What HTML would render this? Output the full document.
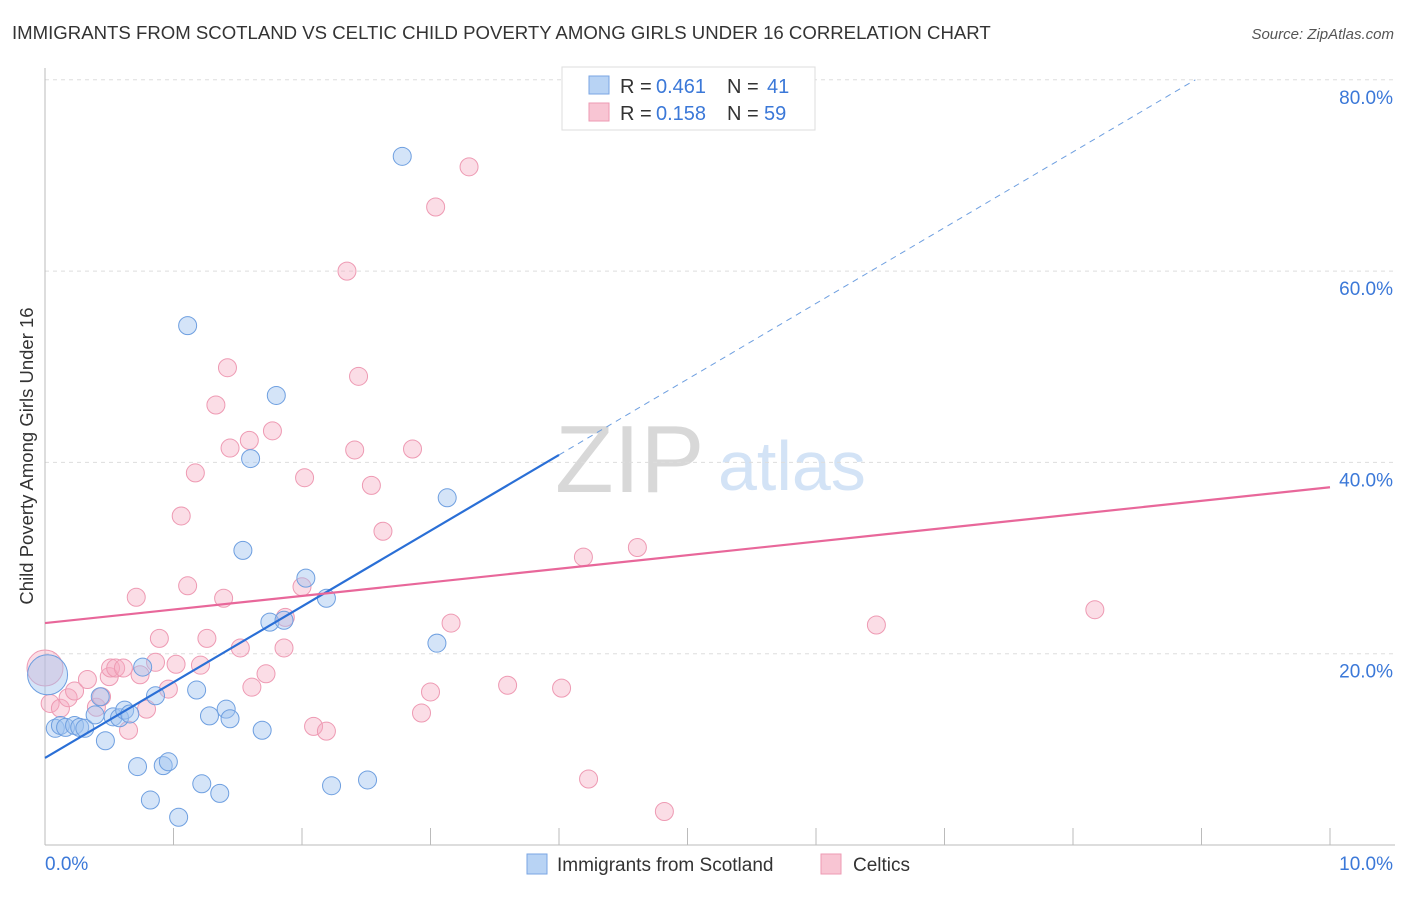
<!DOCTYPE html>
<html><head><meta charset="utf-8"><style>
body{margin:0;background:#fff;font-family:"Liberation Sans",sans-serif;}
svg text{font-family:"Liberation Sans",sans-serif;}
</style></head><body>
<svg id="chart" width="1406" height="892" xmlns="http://www.w3.org/2000/svg">
<text x="12" y="39" font-size="18.6" fill="#333">IMMIGRANTS FROM SCOTLAND VS CELTIC CHILD POVERTY AMONG GIRLS UNDER 16 CORRELATION CHART</text>
<text x="1394" y="39" font-size="15" fill="#555" text-anchor="end" font-style="italic">Source: ZipAtlas.com</text>
<text x="555" y="492" font-size="96" fill="#d8d8d8" font-family="Liberation Serif, serif">ZIP</text>
<text x="718" y="490" font-size="70" fill="#d3e3f6">atlas</text>
<text transform="translate(33,456) rotate(-90)" font-size="18.5" fill="#333" text-anchor="middle">Child Poverty Among Girls Under 16</text>
<g id="grid"></g><g id="marks"></g>
<g>
<rect x="562" y="67" width="253" height="63" fill="#fff" stroke="#ddd"/>
<rect x="589" y="76" width="20" height="18" fill="#b8d3f4" stroke="#7aa6e3"/>
<text x="620" y="93" font-size="20" fill="#333">R = </text><text x="656" y="93" font-size="20" fill="#3b78d8">0.461</text>
<text x="727" y="93" font-size="20" fill="#333">N = </text><text x="767" y="93" font-size="20" fill="#3b78d8">41</text>
<rect x="589" y="103" width="20" height="18" fill="#f8c5d3" stroke="#ee9ab3"/>
<text x="620" y="120" font-size="20" fill="#333">R = </text><text x="656" y="120" font-size="20" fill="#3b78d8">0.158</text>
<text x="727" y="120" font-size="20" fill="#333">N = </text><text x="764" y="120" font-size="20" fill="#3b78d8">59</text>
</g>
<g>
<rect x="527" y="854" width="20" height="20" fill="#b8d3f4" stroke="#7aa6e3"/>
<text x="557" y="871" font-size="19" fill="#333">Immigrants from Scotland</text>
<rect x="821" y="854" width="20" height="20" fill="#f8c5d3" stroke="#ee9ab3"/>
<text x="853" y="871" font-size="19" fill="#333">Celtics</text>
</g>
</svg>
<script>
const blueX=[0.02,0.08,0.12,0.16,0.23,0.27,0.31,0.39,0.43,0.47,0.53,0.58,0.62,0.66,0.72,0.76,0.82,0.86,0.92,0.96,1.04,1.11,1.18,1.22,1.28,1.36,1.41,1.44,1.54,1.60,1.69,1.75,1.80,1.86,2.03,2.19,2.23,2.51,2.78,3.05,3.13];
const blueY=[17.8,12.2,12.5,12.3,12.5,12.3,12.2,13.6,15.5,10.9,13.4,13.3,14.1,13.7,8.2,18.6,4.7,15.6,8.3,8.7,2.9,54.3,16.2,6.4,13.5,5.4,14.2,13.2,30.8,40.4,12.0,23.3,47.0,23.5,27.9,25.8,6.2,6.8,72.0,21.1,36.3];
const pinkX=[0.0,0.04,0.12,0.18,0.23,0.33,0.40,0.44,0.50,0.51,0.55,0.61,0.65,0.71,0.74,0.79,0.86,0.89,0.96,1.02,1.06,1.11,1.17,1.21,1.26,1.33,1.39,1.42,1.44,1.52,1.59,1.61,1.72,1.77,1.86,1.87,2.00,2.02,2.09,2.19,2.35,2.41,2.44,2.54,2.63,2.86,2.93,3.00,3.04,3.16,3.30,3.60,4.02,4.19,4.23,4.61,4.82,6.47,8.17];
const pinkY=[18.5,14.8,14.3,15.4,16.1,17.3,14.4,15.5,17.6,18.5,18.5,18.5,12.0,25.9,17.8,14.2,19.1,21.6,16.3,18.9,34.4,27.1,38.9,18.8,21.6,46.0,25.8,49.9,41.5,20.6,42.3,16.5,17.9,43.3,20.6,23.8,27.0,38.4,12.4,11.9,60.0,41.3,49.0,37.6,32.8,41.4,13.8,16.0,66.7,23.2,70.9,16.7,16.4,30.1,6.9,31.1,3.5,23.0,24.6];
const blueTrend=[9.1,7.92];
const pinkTrend=[23.2,1.42];
const yTicks=[20,40,60,80];
const xTicks=[0,1,2,3,4,5,6,7,8,9,10];
const NS="http://www.w3.org/2000/svg";
const X=v=>45+v*128.5, Y=v=>845-v*9.565;
function mk(t,a,p){const e=document.createElementNS(NS,t);for(const k in a)e.setAttribute(k,a[k]);p.appendChild(e);return e;}
const grid=document.getElementById('grid'),marks=document.getElementById('marks');
yTicks.forEach(t=>{
 const l=mk('line',{x1:45,x2:1395,y1:Y(t),y2:Y(t),stroke:'#ddd','stroke-dasharray':'4,4'},grid);
 
 
 const tx=mk('text',{x:1393,y:Y(t)+24,'font-size':19,fill:'#3b78d8','text-anchor':'end'},grid);
 tx.textContent=t.toFixed(1)+'%';
 
 
});
const ax=mk('line',{x1:45,x2:1395,y1:845,y2:845,stroke:'#bbb'},grid);


const ay=mk('line',{x1:45,x2:45,y1:68,y2:845,stroke:'#bbb'},grid);


xTicks.forEach(t=>{if(t===0)return;
 const l=mk('line',{x1:X(t),x2:X(t),y1:828,y2:845,stroke:'#bbb'},grid);
 
 
});
[[0,'0.0%','start',45],[10,'10.0%','end',1393]].forEach(([t,s,a,x])=>{
 const tx=mk('text',{x:x,y:870,'font-size':19,fill:'#3b78d8','text-anchor':a},grid);
 tx.textContent=s;
 
 
});
pinkX.forEach((x,i)=>{
 const c=mk('circle',{cx:X(x),cy:Y(pinkY[i]),r:i===0?18:9,fill:'rgba(245,170,192,0.4)',stroke:'#ee9ab3','stroke-width':1},marks);
 
 
});
blueX.forEach((x,i)=>{
 const c=mk('circle',{cx:X(x),cy:Y(blueY[i]),r:i===0?20:9,fill:'rgba(160,195,240,0.45)',stroke:'#6e9fe0','stroke-width':1},marks);
 
 
});
const bEnd=(80-blueTrend[0])/blueTrend[1];
const b1=mk('line',{x1:X(0),y1:Y(blueTrend[0]),x2:X(4),y2:Y(blueTrend[0]+4*blueTrend[1]),stroke:'#2a6fd6','stroke-width':2.2},marks);


const b2=mk('line',{x1:X(4),y1:Y(blueTrend[0]+4*blueTrend[1]),x2:X(bEnd),y2:Y(80),stroke:'#6e9fe0','stroke-width':1,'stroke-dasharray':'6,5'},marks);


const p1=mk('line',{x1:X(0),y1:Y(pinkTrend[0]),x2:X(10),y2:Y(pinkTrend[0]+10*pinkTrend[1]),stroke:'#e8679a','stroke-width':2.2},marks);


</script>
</body></html>
